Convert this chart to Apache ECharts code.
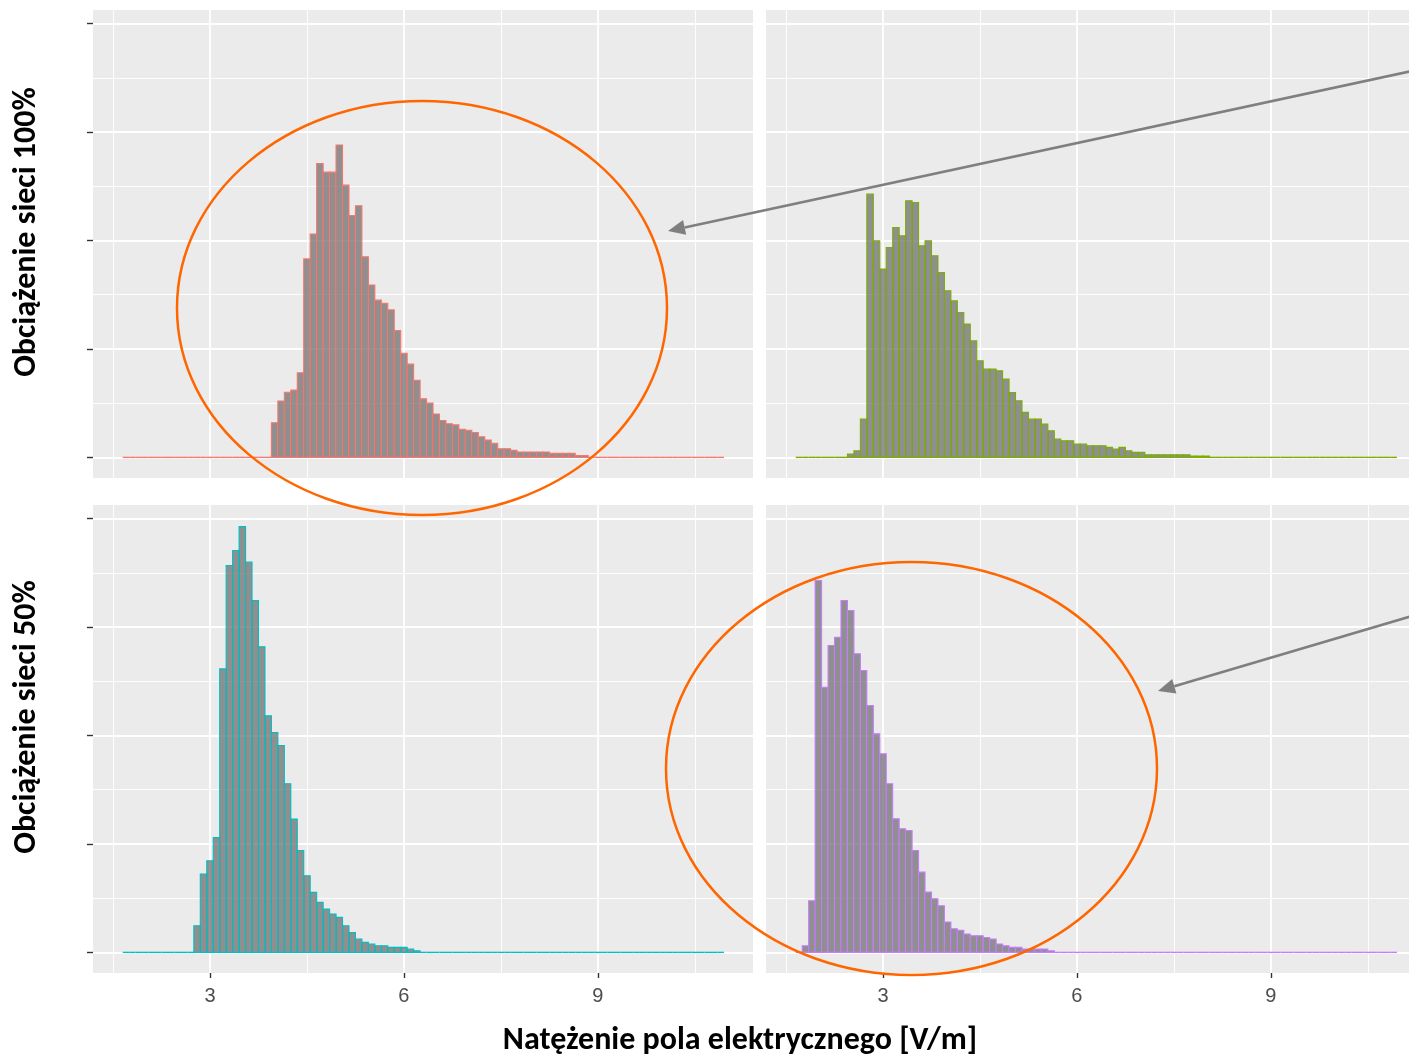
<!DOCTYPE html>
<html>
<head>
<meta charset="utf-8">
<script src="https://cdn.jsdelivr.net/npm/echarts@6/dist/echarts.min.js"></script>
<style>
  html, body { margin: 0; padding: 0; background: #fff; }
  #chart { width: 1409px; height: 1057px; }
</style>
</head>
<body>
<div id="chart"></div>
<script>
// histogram bins shared by all facets
const binFirstEdge = 1.65;
const binWidth = 0.1;
const binTotal = 93;

// counts per bin (thousands); start = left edge of first non-empty bin
const load100LeftStart = 3.95;
const load100Left = [0.32, 0.52, 0.60, 0.62, 0.78, 1.83, 2.06, 2.71, 2.63, 2.63, 2.88, 2.51, 2.23, 2.32, 1.85,
  1.59, 1.45, 1.42, 1.36, 1.17, 0.96, 0.86, 0.71, 0.54, 0.50, 0.40, 0.34, 0.31, 0.30, 0.26, 0.25, 0.23, 0.19,
  0.16, 0.13, 0.08, 0.08, 0.065, 0.05, 0.05, 0.05, 0.05, 0.05, 0.037, 0.037, 0.037, 0.037, 0.018, 0.018];

const load100RightStart = 2.45;
const load100Right = [0.031, 0.061, 0.353, 2.427, 1.997, 1.736, 1.935, 2.12, 2.043, 2.366, 2.35, 1.951, 1.997,
  1.859, 1.705, 1.536, 1.444, 1.336, 1.229, 1.075, 0.891, 0.814, 0.814, 0.799, 0.722, 0.599, 0.522, 0.415,
  0.353, 0.353, 0.307, 0.246, 0.169, 0.154, 0.154, 0.123, 0.123, 0.108, 0.108, 0.108, 0.092, 0.077, 0.092,
  0.061, 0.046, 0.046, 0.025, 0.025, 0.025, 0.025, 0.025, 0.025, 0.025, 0.012, 0.012, 0.012];

const load50LeftStart = 2.75;
const load50Left = [0.246, 0.722, 0.845, 1.06, 2.614, 3.567, 3.705, 3.926, 3.598, 3.244, 2.817, 2.181, 2.028,
  1.908, 1.555, 1.229, 0.94, 0.707, 0.553, 0.461, 0.399, 0.353, 0.323, 0.246, 0.184, 0.123, 0.092, 0.077,
  0.061, 0.061, 0.046, 0.046, 0.046, 0.031, 0.015];

const load50RightStart = 1.75;
const load50Right = [0.061, 0.476, 3.429, 2.445, 2.83, 2.906, 3.244, 3.152, 2.753, 2.599, 2.276, 2.015, 1.831,
  1.555, 1.232, 1.14, 1.124, 0.94, 0.74, 0.556, 0.495, 0.43, 0.28, 0.218, 0.203, 0.169, 0.154, 0.154, 0.138,
  0.123, 0.077, 0.061, 0.046, 0.046, 0.031, 0.031, 0.031, 0.031, 0.015];

const xMajor = [3, 6, 9];
const xMinor = [1.5, 4.5, 7.5, 10.5];
const yMajor = [0, 1, 2, 3, 4];
const yMinor = [0.5, 1.5, 2.5, 3.5];

const rowTitles = ['Obciążenie sieci 100%', 'Obciążenie sieci 50%'];
const xTitle = 'Natężenie pola elektrycznego [V/m]';

// panel layout (pixels); right column is cut by the image edge, so its range is shorter
const X_MIN = 1.19, X_MAX = 11.4, PW_FULL = 660;
const Y_MIN = -0.19, Y_MAX = 4.125, PH = 468;
const colLeft = [93, 766];
const colWidth = [660, 643];
const rowTop = [10, 505];

const panels = [
  { col: 0, row: 0, start: load100LeftStart, counts: load100Left, color: '#F8766D' },
  { col: 1, row: 0, start: load100RightStart, counts: load100Right, color: '#7CAE00' },
  { col: 0, row: 1, start: load50LeftStart, counts: load50Left, color: '#00BFC4' },
  { col: 1, row: 1, start: load50RightStart, counts: load50Right, color: '#C77CFF' }
];

function binsFor(start, counts) {
  const offset = Math.round((start - binFirstEdge) / binWidth);
  const out = [];
  for (let i = 0; i < binTotal; i++) {
    const x0 = +(binFirstEdge + i * binWidth).toFixed(2);
    const k = i - offset;
    out.push([x0, +(x0 + binWidth).toFixed(2), k >= 0 && k < counts.length ? counts[k] : 0]);
  }
  return out;
}

const grid = [], xAxis = [], yAxis = [], series = [];
const hidden = { show: false };
const splitAxis = (vals, lineWidth, extra) => Object.assign({
  type: 'value', min: vals[0], max: vals[vals.length - 1], interval: vals[1] - vals[0],
  axisLine: { show: false }, axisTick: { show: false }, axisLabel: { show: false },
  splitLine: { show: true, lineStyle: { color: '#FFFFFF', width: lineWidth } }
}, extra || {});

const pxPerUnit = PW_FULL / (X_MAX - X_MIN);

panels.forEach(p => {
  const left = colLeft[p.col], top = rowTop[p.row], PW = colWidth[p.col];
  const xMax = X_MIN + PW / pxPerUnit;
  const px = v => left + (v - X_MIN) * pxPerUnit;
  const py = v => top + (Y_MAX - v) / (Y_MAX - Y_MIN) * PH;
  const bottomRow = p.row === 1, leftCol = p.col === 0;

  // data grid with panel background
  const gi = grid.length;
  grid.push({ left, top, width: PW, height: PH, show: true, backgroundColor: '#EBEBEB', borderWidth: 0, z: -1 });
  xAxis.push({ type: 'value', gridIndex: gi, min: X_MIN, max: xMax, show: false });
  yAxis.push({ type: 'value', gridIndex: gi, min: Y_MIN, max: Y_MAX, show: false });

  // vertical minor / major gridlines
  [[xMinor, 0.9], [xMajor, 1.8]].forEach(([vals, w], j) => {
    const g = grid.length;
    grid.push({ left: px(vals[0]), width: px(vals[vals.length - 1]) - px(vals[0]), top, height: PH });
    const extra = { gridIndex: g, position: 'bottom' };
    if (j === 1 && bottomRow) {
      extra.axisTick = { show: true, length: 5, lineStyle: { color: '#333', width: 1.4 } };
      extra.axisLabel = { show: true, color: '#4D4D4D', fontSize: 20, margin: 13,
        fontFamily: "'Liberation Sans Narrow', 'Liberation Sans', sans-serif" };
    }
    xAxis.push(splitAxis(vals, w, extra));
    yAxis.push(Object.assign({ type: 'value', gridIndex: g }, hidden));
  });

  // horizontal minor / major gridlines
  [[yMinor, 0.9], [yMajor, 1.8]].forEach(([vals, w], j) => {
    const g = grid.length;
    grid.push({ left, width: PW, top: py(vals[vals.length - 1]), height: py(vals[0]) - py(vals[vals.length - 1]) });
    const extra = { gridIndex: g, position: 'left' };
    if (j === 1 && leftCol) {
      extra.axisTick = { show: true, length: 6, lineStyle: { color: '#333', width: 1.4 } };
    }
    yAxis.push(splitAxis(vals, w, extra));
    xAxis.push(Object.assign({ type: 'value', gridIndex: g }, hidden));
  });

  series.push({
    type: 'custom',
    xAxisIndex: gi, yAxisIndex: gi,
    z: 5,
    silent: true,
    encode: { x: [0, 1], y: 2 },
    data: binsFor(p.start, p.counts),
    renderItem: (params, api) => {
      const a = api.coord([api.value(0), api.value(2)]);
      const b = api.coord([api.value(1), 0]);
      if (api.value(2) === 0) {
        return { type: 'line', shape: { x1: a[0], y1: b[1], x2: b[0], y2: b[1] },
          style: { stroke: p.color, lineWidth: 1.4 } };
      }
      return {
        type: 'rect',
        shape: { x: a[0], y: a[1], width: b[0] - a[0], height: b[1] - a[1] },
        style: { fill: 'rgba(112,112,112,0.75)', stroke: p.color, lineWidth: 1.1 }
      };
    }
  });
});

// annotations: ellipses and arrows
const arrowColor = '#7F7F7F', ringColor = '#FF6600';
function arrow(x1, y1, x2, y2) {
  const L = 17, W = 7.5;
  const d = Math.hypot(x2 - x1, y2 - y1), ux = (x2 - x1) / d, uy = (y2 - y1) / d;
  const bx = x2 - ux * L, by = y2 - uy * L;
  return [
    { type: 'line', z: 100, shape: { x1, y1, x2: bx, y2: by }, style: { stroke: arrowColor, lineWidth: 2.6 } },
    { type: 'polygon', z: 100, shape: { points: [[x2, y2], [bx - uy * W, by + ux * W], [bx + uy * W, by - ux * W]] },
      style: { fill: arrowColor } }
  ];
}

const titleFont = "'Carlito', 'Lato', 'Noto Sans', sans-serif";
const graphic = [
  { type: 'ellipse', z: 100, shape: { cx: 422, cy: 308, rx: 245, ry: 207 },
    style: { fill: 'none', stroke: ringColor, lineWidth: 2.5 } },
  { type: 'ellipse', z: 100, shape: { cx: 911.5, cy: 768.5, rx: 245.5, ry: 206.5 },
    style: { fill: 'none', stroke: ringColor, lineWidth: 2.5 } },
  ...arrow(1412, 71, 668, 231),
  ...arrow(1412, 616, 1158, 691),
  { type: 'text', x: 740, y: 1041, style: { text: xTitle, fill: '#000', font: "bold 32px " + titleFont,
    textAlign: 'center', textVerticalAlign: 'middle' } },
  ...rowTitles.map((t, i) => ({
    type: 'text', x: 27, y: [232, 717][i], rotation: Math.PI / 2,
    style: { text: t, fill: '#000', font: "bold 32px " + titleFont, textAlign: 'center', textVerticalAlign: 'middle' }
  }))
];

const chart = echarts.init(document.getElementById('chart'));
chart.setOption({
  animation: false,
  backgroundColor: '#FFFFFF',
  grid, xAxis, yAxis, series, graphic
});
</script>
</body>
</html>
